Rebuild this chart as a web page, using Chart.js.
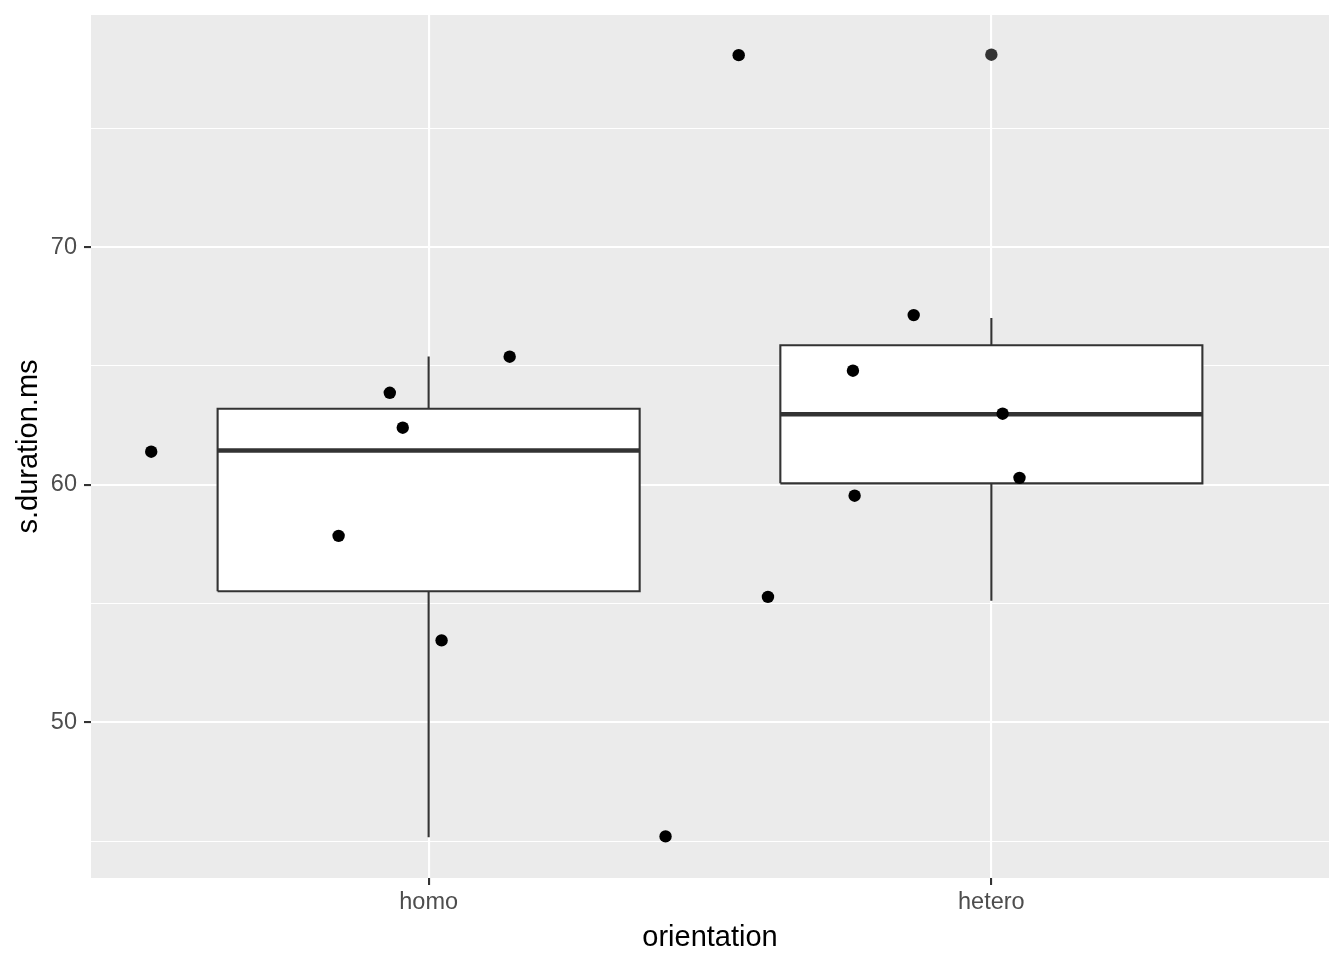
<!DOCTYPE html>
<html>
<head>
<meta charset="utf-8">
<script src="https://cdn.jsdelivr.net/npm/chart.js@4/dist/chart.umd.min.js"></script>
<style>
html,body{margin:0;padding:0;background:#fff;}
canvas{display:block;}
</style>
</head>
<body>
<canvas id="c" width="1344" height="960"></canvas>
<script>
// ---- data ----
const categories = ['homo', 'hetero'];
const catPos = [1, 2];
const q1 = [55.52, 60.06];
const median = [61.44, 62.97];
const q3 = [63.20, 65.87];
const whiskerLow = [45.16, 55.12];
const whiskerHigh = [65.40, 67.02];
const outlierX = [2];
const outlierY = [78.10];
// jittered observations
const pointX = [0.507, 0.840, 0.931, 0.954, 1.023, 1.144, 1.421,
                1.551, 1.603, 1.754, 1.757, 1.862, 2.020, 2.050];
const pointY = [61.39, 57.85, 63.87, 62.40, 53.45, 65.39, 45.20,
                78.08, 55.28, 64.80, 59.54, 67.14, 62.99, 60.29];
const yMajorTicks = [50, 60, 70];
const yMinorTicks = [45, 55, 65, 75];

// ---- styling constants ----
const BOX_HALF = 0.375;
const DARK = '#333333';
const FONT = 'Liberation Sans, Arial, sans-serif';

const datasets = [];
datasets.push({
  type: 'scatter',
  data: pointX.map((x, i) => ({x: x, y: pointY[i]})),
  pointRadius: 6.2, pointHoverRadius: 6.2,
  backgroundColor: '#000000', borderWidth: 0
});
datasets.push({
  type: 'scatter',
  data: outlierX.map((x, i) => ({x: x, y: outlierY[i]})),
  pointRadius: 6.2, pointHoverRadius: 6.2,
  backgroundColor: DARK, borderWidth: 0
});
catPos.forEach((c, i) => {
  datasets.push({
    type: 'line',
    data: [{x: c - BOX_HALF, y: median[i]}, {x: c + BOX_HALF, y: median[i]}],
    borderColor: DARK, borderWidth: 4.5, pointRadius: 0, fill: false,
    borderCapStyle: 'butt'
  });
});
catPos.forEach((c, i) => {
  datasets.push({
    type: 'line',
    data: [
      {x: c - BOX_HALF, y: q1[i]}, {x: c + BOX_HALF, y: q1[i]},
      {x: c + BOX_HALF, y: q3[i]}, {x: c - BOX_HALF, y: q3[i]},
      {x: c - BOX_HALF, y: q1[i]}
    ],
    borderColor: DARK, borderWidth: 2.1, pointRadius: 0,
    fill: 'shape', backgroundColor: '#ffffff',
    borderJoinStyle: 'miter', tension: 0
  });
});
catPos.forEach((c, i) => {
  datasets.push({
    type: 'line',
    data: [{x: c, y: whiskerLow[i]}, {x: c, y: whiskerHigh[i]}],
    borderColor: DARK, borderWidth: 2.1, pointRadius: 0, fill: false
  });
});

const bgPlugin = {
  id: 'bg',
  beforeDraw(chart) {
    const {ctx, chartArea: a} = chart;
    ctx.save();
    ctx.fillStyle = '#ffffff';
    ctx.fillRect(0, 0, chart.width, chart.height);
    ctx.fillStyle = '#EBEBEB';
    ctx.fillRect(a.left, a.top, a.right - a.left, a.bottom - a.top);
    ctx.restore();
  }
};

new Chart(document.getElementById('c'), {
  type: 'scatter',
  data: {datasets: datasets},
  plugins: [bgPlugin],
  options: {
    responsive: false,
    animation: false,
    events: [],
    layout: {padding: {left: 0, right: 15, top: 15, bottom: 0}},
    plugins: {legend: {display: false}, tooltip: {enabled: false}},
    scales: {
      x: {
        type: 'linear', min: 0.4, max: 2.6,
        afterBuildTicks: (s) => { s.ticks = catPos.map(v => ({value: v})); },
        afterFit: (s) => { s.height = 82; s.paddingLeft = 0; s.paddingRight = 0; },
        border: {display: false},
        grid: {color: '#ffffff', lineWidth: 2.1, tickLength: 7, tickColor: DARK, tickWidth: 2.1},
        ticks: {
          autoSkip: false, maxRotation: 0, padding: 3,
          color: '#4D4D4D', font: {family: FONT, size: 23.5},
          callback: (v) => categories[catPos.indexOf(v)]
        },
        title: {display: true, text: 'orientation', color: '#000000',
                font: {family: FONT, size: 29}, padding: {top: 0, bottom: 5}}
      },
      y: {
        type: 'linear', min: 43.45, max: 79.77,
        afterBuildTicks: (s) => {
          s.ticks = yMajorTicks.concat(yMinorTicks).sort((a, b) => a - b).map(v => ({value: v}));
        },
        afterFit: (s) => { s.width = 91; s.paddingTop = 0; s.paddingBottom = 0; },
        border: {display: false},
        grid: {
          color: '#ffffff',
          lineWidth: (ctx) => (ctx.tick && yMajorTicks.includes(ctx.tick.value)) ? 2.1 : 1.05,
          tickLength: 7,
          tickColor: (ctx) => (ctx.tick && yMajorTicks.includes(ctx.tick.value)) ? DARK : 'rgba(0,0,0,0)',
          tickWidth: 2.1
        },
        ticks: {
          autoSkip: false, padding: 7,
          color: '#4D4D4D', font: {family: FONT, size: 23.5},
          callback: (v) => yMajorTicks.includes(v) ? String(v) : ''
        },
        title: {display: true, text: 's.duration.ms', color: '#000000',
                font: {family: FONT, size: 29}, padding: {top: 12, bottom: 0}}
      }
    }
  }
});
</script>
</body>
</html>
